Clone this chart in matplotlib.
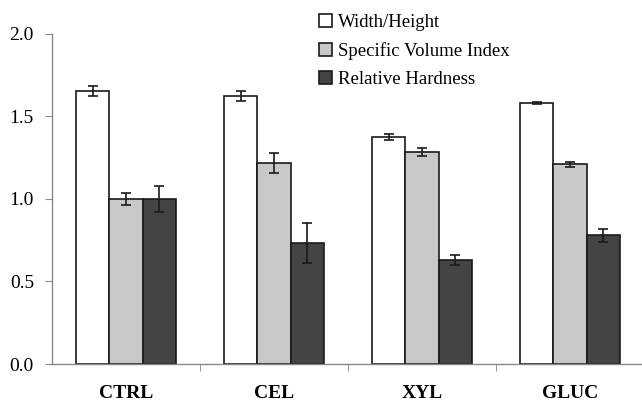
import matplotlib
matplotlib.use("Agg")
import matplotlib.pyplot as plt
import numpy as np

categories = ["CTRL", "CEL", "XYL", "GLUC"]
series_names = ["Width/Height", "Specific Volume Index", "Relative Hardness"]
width_height = [1.655, 1.625, 1.375, 1.58]
width_height_err = [0.03, 0.03, 0.02, 0.005]
svi = [1.0, 1.218, 1.285, 1.21]
svi_err = [0.035, 0.06, 0.025, 0.015]
hardness = [1.0, 0.733, 0.63, 0.78]
hardness_err = [0.08, 0.12, 0.03, 0.04]
yticks = [0.0, 0.5, 1.0, 1.5, 2.0]

plt.rcParams['font.family'] = ['Liberation Serif', 'DejaVu Serif']

fig = plt.figure(figsize=(6.42, 4.04), dpi=100)
ax = fig.add_axes([0.081, 0.099, 0.922, 0.817])

x = np.arange(len(categories))
bw = 0.225
colors = ["#ffffff", "#c8c8c8", "#444444"]
data = [(width_height, width_height_err), (svi, svi_err), (hardness, hardness_err)]
for i, ((vals, errs), c, name) in enumerate(zip(data, colors, series_names)):
    ax.bar(x + (i - 1) * bw, vals, bw, color=c, edgecolor="#1a1a1a", linewidth=1.2,
           label=name, zorder=2)
    ax.errorbar(x + (i - 1) * bw, vals, yerr=errs, fmt="none", ecolor="#1a1a1a",
                elinewidth=1.2, capsize=3.6, capthick=1.2, zorder=3)

ax.set_xlim(-0.5, 3.5)
ax.set_ylim(0, 2.0)
ax.set_yticks(yticks)
ax.set_yticklabels([f"{v:.1f}" for v in yticks], fontsize=14)
ax.set_xticks(x)
ax.set_xticklabels(categories, fontsize=14, fontweight="bold")
ax.set_xticks([0.5, 1.5, 2.5], minor=True)
ax.tick_params(axis="x", which="major", length=0, pad=15)
ax.tick_params(axis="x", which="minor", length=5, color="#888888", direction="out")
ax.tick_params(axis="y", length=5, color="#888888", direction="out", pad=8)

for s in ["top", "right"]:
    ax.spines[s].set_visible(False)
for s in ["left", "bottom"]:
    ax.spines[s].set_color("#888888")
    ax.spines[s].set_linewidth(1.0)

leg = fig.legend(loc="upper left", bbox_to_anchor=(0.47, 1.008), frameon=False,
                 fontsize=13.5, handlelength=0.7, handleheight=0.7,
                 handletextpad=0.35, labelspacing=0.6)

fig.savefig("out.png", dpi=100)
